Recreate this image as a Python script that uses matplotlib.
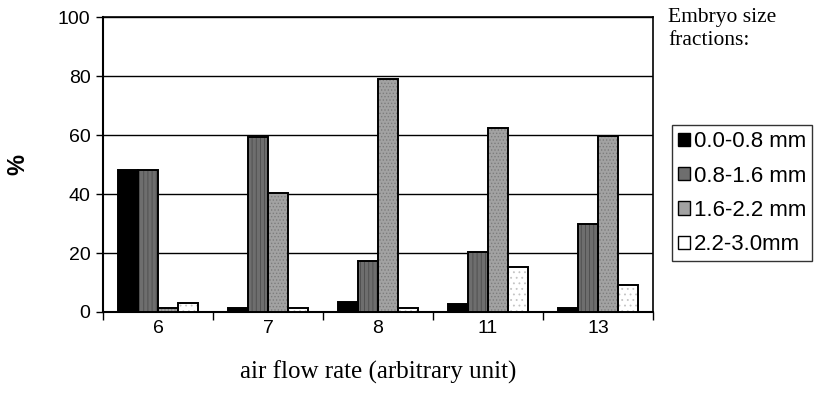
import numpy as np
import matplotlib
matplotlib.use('Agg')
import matplotlib.pyplot as plt
from matplotlib.patches import Patch

plt.rcParams['font.family'] = ['Liberation Sans', 'DejaVu Sans']
plt.rcParams['hatch.linewidth'] = 0.6

# air flow rate groups and share (%) of each embryo size fraction
flow_rates = ['6', '7', '8', '11', '13']
fractions = ['0.0-0.8 mm', '0.8-1.6 mm', '1.6-2.2 mm', '2.2-3.0mm']
frac_00_08 = [48.3, 1.5, 3.3, 2.7, 1.5]
frac_08_16 = [48.1, 59.2, 17.2, 20.2, 29.9]
frac_16_22 = [1.3, 40.3, 79.1, 62.3, 59.8]
frac_22_30 = [3.2, 1.3, 1.3, 15.4, 9.3]

# fill colour, hatch colour, hatch pattern per fraction
styles = [
    ('#000000', '#000000', None),
    ('#6e6e6e', '#4c4c4c', '||||'),
    ('#a2a2a2', '#7c7c7c', '.....'),
    ('#ffffff', '#c4c4c4', '...'),
]
series = [frac_00_08, frac_08_16, frac_16_22, frac_22_30]

fig = plt.figure(figsize=(8.29, 4.11), dpi=100)
ax = fig.add_axes([103 / 829, 1 - 312 / 411, 550 / 829, 295 / 411])

x = np.arange(len(flow_rates))
w = 0.182
for i, (vals, (fc, hc, hatch)) in enumerate(zip(series, styles)):
    pos = x + (i - 1.5) * w
    ax.bar(pos, vals, w, color=fc, edgecolor=hc, hatch=hatch, linewidth=0, zorder=3)
    ax.bar(pos, vals, w, fill=False, edgecolor='black', linewidth=1.4, zorder=4)

ax.set_xlim(-0.5, len(flow_rates) - 0.5)
ax.set_ylim(0, 100)
ax.set_yticks(np.arange(0, 101, 20))
ax.tick_params(axis='y', labelsize=14, length=5, width=1, direction='out', pad=4)
ax.yaxis.grid(True, color='black', linewidth=1.0)
ax.set_axisbelow(True)

# category labels in the middle, tick marks on the group boundaries
ax.set_xticks(x)
ax.set_xticklabels(flow_rates)
ax.set_xticks(np.arange(-0.5, len(flow_rates)), minor=True)
ax.tick_params(axis='x', which='major', length=0, labelsize=14, pad=6)
ax.tick_params(axis='x', which='minor', length=6, width=1, direction='out')

for side in ['left', 'bottom']:
    ax.spines[side].set_linewidth(1.5)
for side in ['top', 'right']:
    ax.spines[side].set_linewidth(1.2)

ax.set_xlabel('air flow rate (arbitrary unit)', family='Liberation Serif', fontsize=18)
ax.xaxis.set_label_coords(0.5, -49 / 295)
ax.set_ylabel('%', fontsize=17, fontweight='bold')
ax.yaxis.set_label_coords(-74 / 550, 0.5)

fig.text(668 / 829, 1 - 8 / 411, 'Embryo size\nfractions:', family='Liberation Serif',
         fontsize=15.5, va='top', ha='left', linespacing=1.3)

handles = [Patch(facecolor=fc, edgecolor='black', linewidth=1) for fc, hc, hatch in styles]
leg = fig.legend(handles, fractions, loc='upper left', bbox_to_anchor=(672 / 829, 1 - 125 / 411),
                 fontsize=16, frameon=True, fancybox=False, edgecolor='black',
                 handlelength=0.55, handleheight=0.55, handletextpad=0.15,
                 labelspacing=0.6, borderpad=0.28, borderaxespad=0)
leg.get_frame().set_linewidth(1.0)

fig.savefig('out.png', dpi=100)
